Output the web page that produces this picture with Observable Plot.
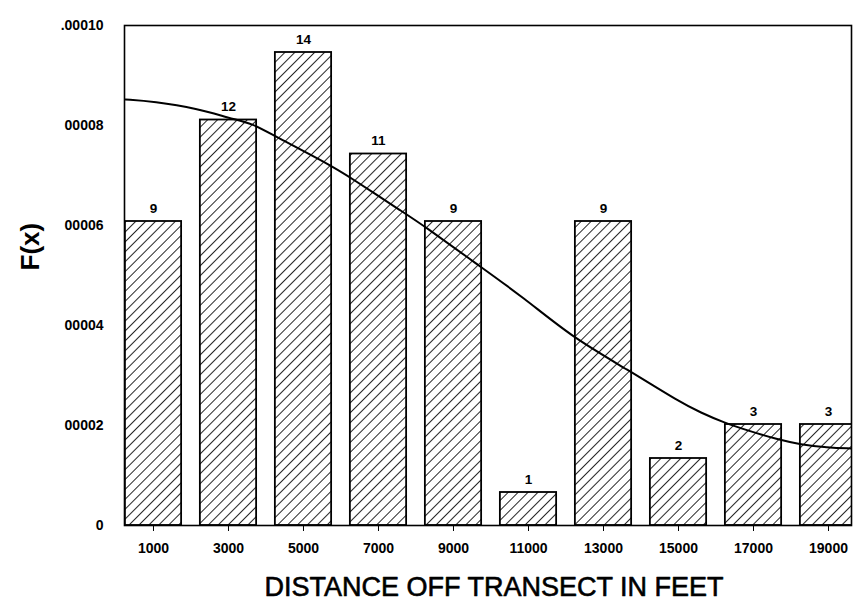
<!DOCTYPE html>
<html><head><meta charset="utf-8">
<script src="https://cdn.jsdelivr.net/npm/d3@7"></script>
<script src="https://cdn.jsdelivr.net/npm/@observablehq/plot@0.6"></script>
<style>
body{margin:0;background:#fff;}
#chart svg{font-family:"Liberation Sans",Arial,sans-serif;}
</style>
</head><body><div id="chart"></div>
<script>
// bin centres (feet), counts per bin and their density heights F(x)
const binCenters = [1000, 3000, 5000, 7000, 9000, 11000, 13000, 15000, 17000, 19000];
const counts = [9, 12, 14, 11, 9, 1, 9, 2, 3, 3];
const densities = [0.0000608, 0.0000811, 0.0000946, 0.0000743, 0.0000608, 0.0000066, 0.0000608, 0.0000134, 0.0000202, 0.0000202];
const binHalfWidth = 750;

// fitted detection curve
const curveX = [253, 1000, 2173, 3053, 3640, 4200, 5640, 6253, 7667, 8200, 9600, 10870, 12170, 13640, 15050, 15590, 16200, 16840, 17640, 18250, 18970, 19613];
const curveY = [8.52e-5, 8.48e-5, 8.34e-5, 8.14e-5, 8.04e-5, 7.80e-5, 7.24e-5, 6.96e-5, 6.26e-5, 6.0e-5, 5.24e-5, 4.56e-5, 3.76e-5, 3.12e-5, 2.46e-5, 2.26e-5, 2.06e-5, 1.90e-5, 1.72e-5, 1.62e-5, 1.56e-5, 1.54e-5];

const yTickValues = [0, 0.00002, 0.00004, 0.00006, 0.00008, 0.0001];
const yTickLabels = ["0", "00002", "00004", "00006", "00008", ".00010"];
const xTickValues = binCenters;
const xTitle = "DISTANCE OFF TRANSECT IN FEET";
const yTitle = "F(x)";
const xDomain = [227, 19613];
const yDomain = [0, 0.0001];

const bars = binCenters.map((c, i) => ({x1: c - binHalfWidth, x2: c + binHalfWidth, y: densities[i], count: counts[i], c}));
const curve = curveX.map((x, i) => ({x, y: curveY[i]}));

const plot = Plot.plot({
  width: 868,
  height: 601,
  marginLeft: 124,
  marginRight: 17,
  marginTop: 25,
  marginBottom: 76,
  style: {fontFamily: "'Liberation Sans', Arial, sans-serif", background: "#fff", color: "#000"},
  x: {domain: xDomain},
  y: {domain: yDomain},
  marks: [
    Plot.rectY(bars, {x1: "x1", x2: "x2", y1: 0, y2: "y", fill: "url(#hatch)", stroke: "#000", strokeWidth: 1.8, clip: true}),
    Plot.line(curve, {x: "x", y: "y", stroke: "#000", strokeWidth: 2, curve: "basis", clip: true}),
    Plot.text(bars, {x: "c", y: "y", text: "count", dy: -13, fontSize: 13.5, fontWeight: "bold", fill: "#000"}),
    Plot.frame({stroke: "#000", strokeWidth: 1.6}),
    Plot.axisX({ticks: xTickValues, tickFormat: d => String(d), tickSize: 6, tickPadding: 12, fontSize: 14, fontWeight: "bold", label: null, stroke: "#000"}),
    Plot.axisY({ticks: yTickValues, tickFormat: d => yTickLabels[yTickValues.indexOf(d)], tickSize: 0, tickPadding: 21, fontSize: 14, fontWeight: "bold", label: null}),
    Plot.text([xTitle], {frameAnchor: "bottom", dy: 62, dx: 6, lineAnchor: "middle", fontSize: 27, fill: "#000", stroke: "#000", strokeWidth: 0.6}),
    Plot.text([yTitle], {frameAnchor: "left", dx: -94, dy: -5, rotate: -90, lineAnchor: "middle", fontSize: 26, fontWeight: "bold", fill: "#000"})
  ]
});

const defs = d3.select(plot).insert("defs", ":first-child");
const pat = defs.append("pattern")
  .attr("id", "hatch")
  .attr("patternUnits", "userSpaceOnUse")
  .attr("width", 7).attr("height", 7)
  .attr("patternTransform", "rotate(45)");
pat.append("rect").attr("width", 7).attr("height", 7).attr("fill", "#fff");
pat.append("line").attr("x1", 0).attr("y1", 0).attr("x2", 0).attr("y2", 7)
  .attr("stroke", "#000").attr("stroke-width", 1.7);

document.getElementById("chart").appendChild(plot);
</script>
</body></html>
